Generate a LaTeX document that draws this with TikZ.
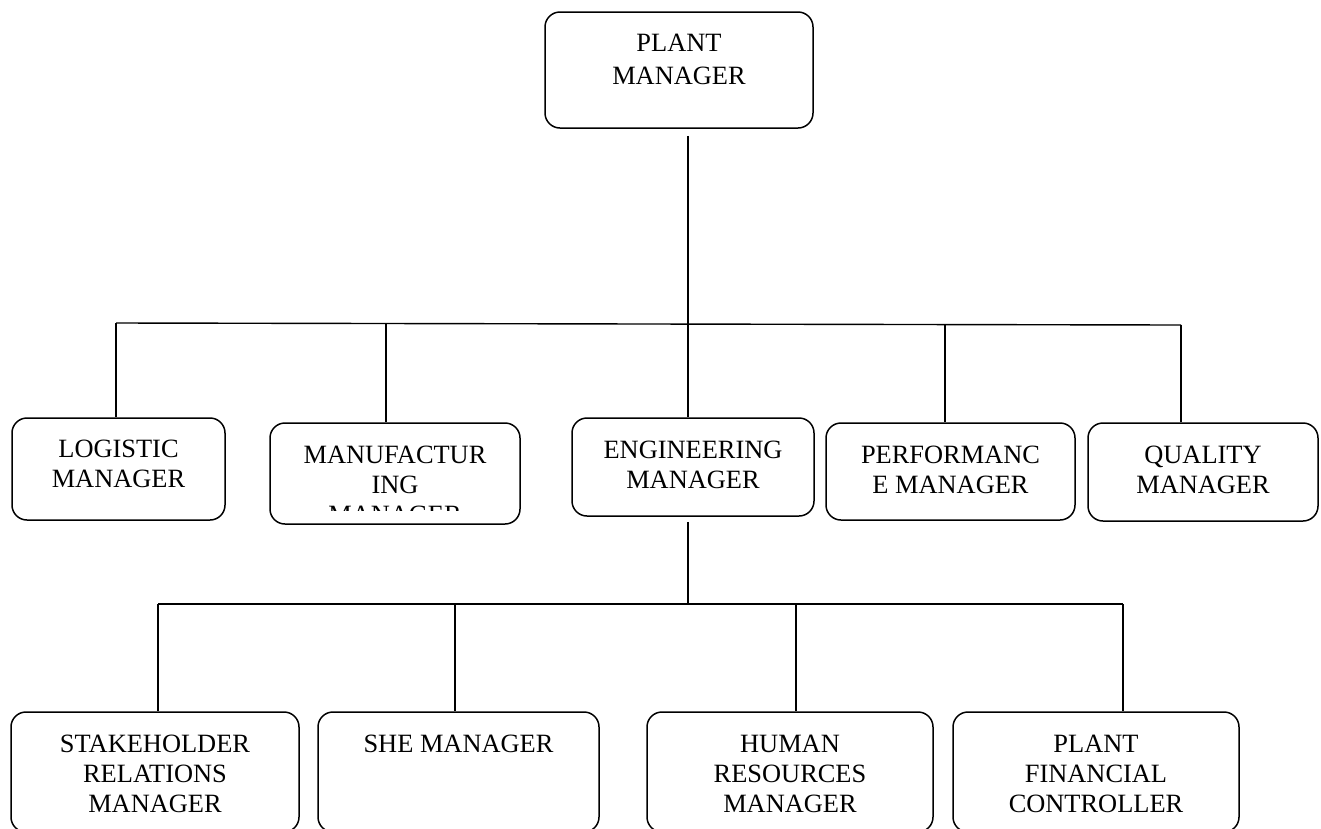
\documentclass[tikz,border=0pt]{standalone}
\usepackage{fontspec}
\setmainfont{Liberation Serif}
\usetikzlibrary{positioning}

\tikzset{
  post/.style={draw, line width=1.5pt, rounded corners=15pt, inner sep=0pt},
  title/.style={align=center, inner sep=0pt, font=\fontsize{26.4}{30}\selectfont},
  wire/.style={line width=1.4pt},
}

\begin{document}
\begin{tikzpicture}[x=1pt, y=-1pt]
  \clip (0,0) rectangle (1321,828);
  % plant manager
  \node[post, minimum width=268pt, minimum height=116pt] (plant) at (679,70) {};
  \node[title, font=\fontsize{26.4}{33.5}\selectfont, below=22.5pt of plant.north] (plant-t) {PLANT\\MANAGER};
  % second level
  \node[post, minimum width=213pt, minimum height=102pt] (logistic) at (118.5,469) {};
  \node[title, below=22.7pt of logistic.north] (logistic-t) {LOGISTIC\\MANAGER};
  \node[post, minimum width=250pt, minimum height=101pt] (manuf) at (395,473.5) {};
  \begin{scope}
    \clip (270,400) rectangle (520,510);
    \node[title, below=23.7pt of manuf.north] (manuf-t) {MANUFACTUR\\ING\\MANAGER};
  \end{scope}
  \node[post, minimum width=242pt, minimum height=98pt] (eng) at (693,467) {};
  \node[title, below=23.7pt of eng.north] (eng-t) {ENGINEERING\\MANAGER};
  \node[post, minimum width=249pt, minimum height=97pt] (perf) at (950.5,471.5) {};
  \node[title, below=23.7pt of perf.north] (perf-t) {PERFORMANC\\E MANAGER};
  \node[post, minimum width=230pt, minimum height=98pt] (quality) at (1203,472) {};
  \node[title, below=23.7pt of quality.north] (quality-t) {QUALITY\\MANAGER};
  % third level
  \node[post, minimum width=288pt, minimum height=120pt] (stake) at (155,772) {};
  \node[title, below=24pt of stake.north] (stake-t) {STAKEHOLDER\\RELATIONS\\MANAGER};
  \node[post, minimum width=281pt, minimum height=120pt] (she) at (458.5,772) {};
  \node[title, below=24pt of she.north] (she-t) {SHE MANAGER};
  \node[post, minimum width=286pt, minimum height=120pt] (hr) at (790,772) {};
  \node[title, below=24pt of hr.north] (hr-t) {HUMAN\\RESOURCES\\MANAGER};
  \node[post, minimum width=286pt, minimum height=120pt] (pfc) at (1096,772) {};
  \node[title, below=24pt of pfc.north] (pfc-t) {PLANT\\FINANCIAL\\CONTROLLER};
  % upper bus
  \coordinate (top) at (688,323.5);
  \coordinate (b1) at (116,323);
  \coordinate (b2) at (386,323.5);
  \coordinate (b3) at (688,324);
  \coordinate (b4) at (945,324.5);
  \coordinate (b5) at (1181,325);
  \draw[wire] ([yshift=-7pt]plant.south -| top) -- (top);
  \draw[wire] (b1) -- (b5);
  \foreach \b/\n in {b1/logistic, b2/manuf, b3/eng, b4/perf, b5/quality}
    \draw[wire] (\b) -- (\b |- \n.north);
  % lower bus
  \coordinate (low) at (688,604);
  \coordinate (c1) at (158,604);
  \coordinate (c2) at (455,604);
  \coordinate (c3) at (796,604);
  \coordinate (c4) at (1123,604);
  \draw[wire] ([yshift=-5pt]eng.south -| low) -- (low);
  \draw[wire] (c1) -- (c4);
  \foreach \c/\n in {c1/stake, c2/she, c3/hr, c4/pfc}
    \draw[wire] (\c) -- (\c |- \n.north);
\end{tikzpicture}
\end{document}
